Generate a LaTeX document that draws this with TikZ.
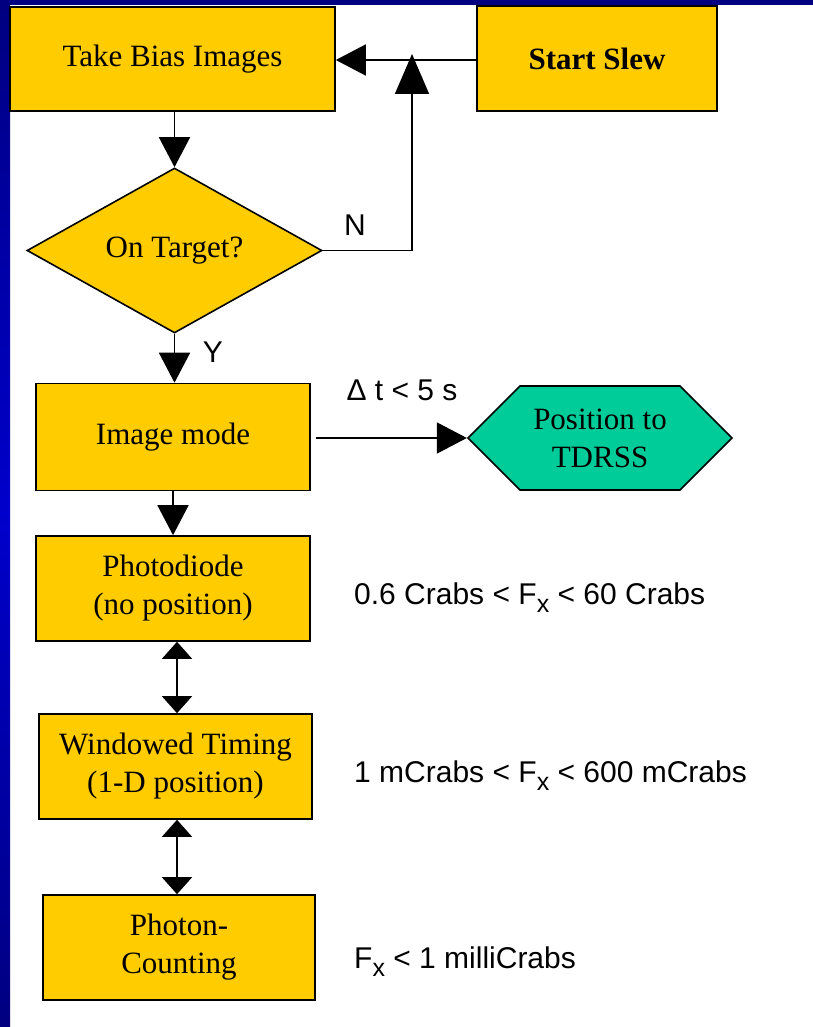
\documentclass[tikz,border=0pt]{standalone}
\usepackage{fontspec}
\setmainfont{Liberation Serif}
\newfontfamily\labfont{Liberation Sans}
\usetikzlibrary{arrows.meta,shapes.geometric,shapes.symbols}

\definecolor{boxyellow}{RGB}{255,204,0}
\definecolor{hexgreen}{RGB}{0,204,153}
\definecolor{navyedge}{RGB}{0,0,128}
\definecolor{brightedge}{RGB}{0,0,204}

\newcommand{\Fx}{F\raisebox{-8pt}{\fontsize{25}{25}\selectfont x}}

\begin{document}
\begin{tikzpicture}[
  x=1pt,
  y=-1pt,
  font=\fontsize{31}{38}\selectfont,
  stepbox/.style={draw, line width=1.6pt, fill=boxyellow, minimum width=274pt, minimum height=105pt, align=center, inner sep=2pt},
  decision/.style={draw, line width=1.6pt, fill=boxyellow, diamond, aspect=1.79, minimum width=295pt, minimum height=165pt, inner sep=0pt},
  target/.style={draw, line width=1.6pt, fill=hexgreen, signal, signal to=east and west, signal from=nowhere, signal pointer angle=90, minimum width=264pt, minimum height=104pt, align=center, inner sep=2pt},
  flow/.style={line width=1.6pt, -{Triangle[length=30pt,width=31pt]}},
  both/.style={line width=1.3pt, {Triangle[length=17pt,width=30pt]}-{Triangle[length=17pt,width=30pt]}},
  lab/.style={font=\labfont\fontsize{30}{34}\selectfont, inner sep=0pt}
]
  \useasboundingbox (0,0) rectangle (813,1027);
  \fill[white] (0,0) rectangle (813,1027);
  % blue frame
  \shade[top color=navyedge, bottom color=navyedge, middle color=brightedge] (0,0) rectangle (10,1027);
  \fill[navyedge] (0,0) rectangle (813,5);

  \node[stepbox, minimum width=325pt, minimum height=104pt] (bias) at (172.5,59) {Take Bias Images};
  \node[stepbox, minimum width=240pt] (slew) at (597,58.5) {\textbf{Start Slew}};
  \node[decision] (ontarget) at (174.5,250.5) {On Target?};
  \node[stepbox, minimum height=107pt] (image) at (173,437) {Image mode};
  \node[target] (tdrss) at (600,438) {Position to\\TDRSS};
  \node[stepbox] (photo) at (173,588.5) {Photodiode\\(no position)};
  \node[stepbox, minimum width=273pt] (window) at (175.5,766.5) {Windowed Timing\\(1-D position)};
  \node[stepbox, minimum width=272pt] (count) at (179,947.5) {Photon-\\Counting};

  \node[lab] (nlab) at (355,225) {N};
  \node[lab] (ylab) at (213,352) {Y};
  \node[lab] (dtlab) at (402,390) {Δ t < 5 s};
  \node[lab, anchor=west] (rate1) at (354,598) {0.6 Crabs < \Fx{} < 60 Crabs};
  \node[lab, anchor=west] (rate2) at (354,776) {1 mCrabs < \Fx{} < 600 mCrabs};
  \node[lab, anchor=west] (rate3) at (354,962) {\Fx{} < 1 milliCrabs};

  \coordinate (nup) at (412,54);

  \draw[flow] (slew.west |- 0,60) -- (bias.east |- 0,60);
  \draw[flow] (bias.south -| ontarget.north) -- (ontarget.north);
  \draw[line width=1.6pt, -{Triangle[length=40pt,width=34pt]}] (ontarget.east) -| (nup);
  \draw[flow] (ontarget.south) -- (image.north -| ontarget.south);
  \draw[flow, shorten <=5pt] (image.east |- tdrss.west) -- (tdrss.west);
  \draw[flow] (image.south) -- (photo.north);
  \draw[both] (photo.south -| 177,0) -- (window.north -| 177,0);
  \draw[both] (window.south -| 177,0) -- (count.north -| 177,0);
\end{tikzpicture}
\end{document}
